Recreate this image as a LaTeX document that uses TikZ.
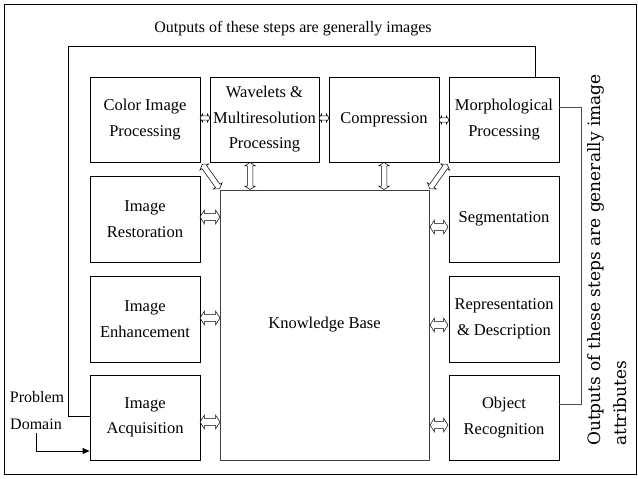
\documentclass[tikz,border=0pt]{standalone}
\usepackage{fontspec}
\setmainfont{Liberation Serif}
\newfontfamily\vfont{DejaVu Serif}
\usetikzlibrary{shapes.arrows,arrows.meta,calc}
\begin{document}
\begin{tikzpicture}[x=1pt,y=-1pt,
  box/.style={draw,line width=0.8pt,minimum width=110pt,minimum height=85pt,align=center,inner sep=0pt,font=\fontsize{16.5}{25.5}\selectfont},
  lbl/.style={inner sep=0pt,font=\fontsize{16}{25}\selectfont},
  vlbl/.style={inner sep=0pt,rotate=90,anchor=west,font=\vfont\fontsize{17}{20}\selectfont},
  conn/.style={line width=0.8pt},
  darr/.style={draw,line width=0.5pt,shape=double arrow,inner xsep=0pt,double arrow tip angle=115,fill=white},
  sarr/.style={darr,inner ysep=1.8pt,double arrow head extend=2.2pt,minimum height=10pt},
  harr/.style={darr,inner ysep=3.3pt,double arrow head extend=3.5pt,minimum height=#1},
  varr/.style={darr,inner ysep=2.5pt,double arrow head extend=2.7pt,minimum height=#1}
]
\useasboundingbox (0,0) rectangle (638,479);
\draw[line width=0.8pt] (4,4) rectangle (636,474);

% title
\node[lbl] (title) at (293,29) {Outputs of these steps are generally images};

% boxes
\node[box] (cip) at (145,119.5) {Color Image\\Processing};
\node[box,minimum width=109pt] (wav) at (264.5,119.5) {Wavelets \&\\Multiresolution\\Processing};
\node[box] (cmp) at (384,119.5) {Compression};
\node[box] (mor) at (504,119.5) {Morphological\\Processing};
\node[box,minimum height=86pt] (res) at (145,219) {Image\\Restoration};
\node[box,minimum height=86pt] (enh) at (145,319) {Image\\Enhancement};
\node[box] (acq) at (145,417.5) {Image\\Acquisition};
\node[box,draw=black!75,minimum width=209pt,minimum height=270pt] (kb) at (324.5,325) {Knowledge Base};
\node[box,minimum height=86pt] (seg) at (504,219) {Segmentation};
\node[box,minimum height=86pt] (rep) at (504,319) {Representation\\\& Description};
\node[box] (obj) at (504,417.5) {Object\\Recognition};

% problem domain
\node[lbl] (prob) at (37,397) {Problem};
\node[lbl] (dom) at (36,424) {Domain};
\draw[conn,-{Triangle[length=7pt,width=6pt]}] ([yshift=-3pt]dom.south) |- ([yshift=-33.5pt]acq.west);

% feedback line (images)
\coordinate (tl) at (68,46);
\coordinate (tr) at (535,46);
\draw[conn] ([yshift=1.5pt]acq.west) -| (tl) -- (tr) -- (tr |- mor.north);

% right bracket (attributes)
\coordinate (rb) at (581,107);
\draw[conn,draw=black!70] ([yshift=12.5pt]mor.east) -- (rb) |- ([yshift=13.5pt]obj.east);
\node[vlbl] (attr1) at (596,446) {Outputs of these steps are generally image};
\node[vlbl] (attr2) at (620,446) {attributes};

% double arrows, top row
\node[sarr] (a1) at (205,118) {};
\node[sarr] (a2) at (324,118) {};
\node[sarr] (a3) at (444,120) {};
% vertical
\node[varr=27pt,rotate=90] (a4) at (250,176) {};
\node[varr=27pt,rotate=90] (a5) at (384,176) {};
% diagonal
\node[varr=30pt,rotate=-54.5] (a6) at (211,176.5) {};
\node[varr=30pt,rotate=54.5] (a7) at (438.5,176.5) {};
% left side
\node[harr=20pt] (a8) at (210,217) {};
\node[harr=20pt] (a9) at (210,318) {};
\node[harr=20pt] (a10) at (210,422) {};
% right side
\node[harr=18pt] (a11) at (439,227) {};
\node[harr=18pt] (a12) at (439,325) {};
\node[harr=18pt] (a13) at (439,425) {};
\end{tikzpicture}
\end{document}
